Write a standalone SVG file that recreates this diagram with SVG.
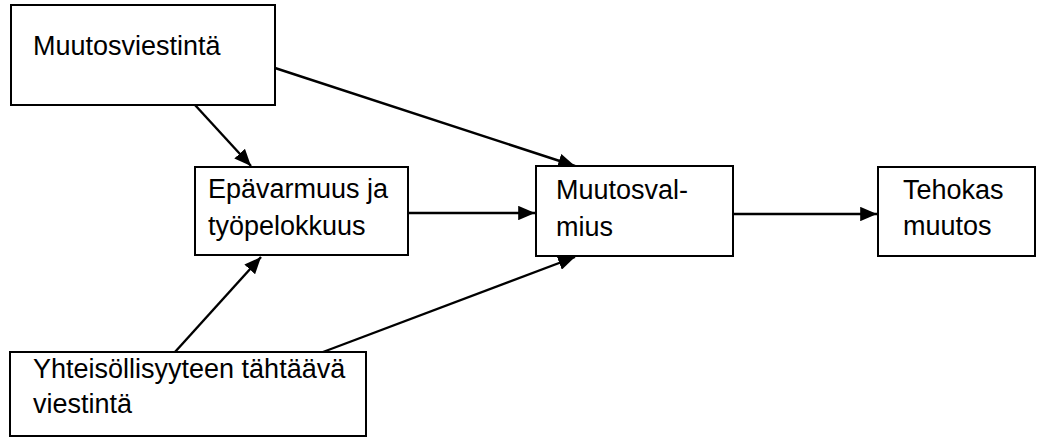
<svg xmlns="http://www.w3.org/2000/svg" width="1037" height="437" viewBox="0 0 1037 437">
<style>
.box{fill:#fff;stroke:#000;stroke-width:2}
.lbl{font-family:"Liberation Sans",Arial,sans-serif;font-size:27px;fill:#000}
.conn{stroke:#000;stroke-width:2.4;fill:none;marker-end:url(#ah)}
</style>
<defs>
<marker id="ah" markerWidth="7" markerHeight="6" refX="7" refY="3" orient="auto" markerUnits="strokeWidth">
<path d="M0,0 L7,3 L0,6 z" fill="#000"/>
</marker>
</defs>
<rect width="1037" height="437" fill="#fff"/>
<g id="connectors">
<line class="conn" x1="195" y1="105" x2="251" y2="166"/>
<line class="conn" x1="275" y1="68" x2="575" y2="166"/>
<line class="conn" x1="408" y1="213" x2="535" y2="213"/>
<line class="conn" x1="733" y1="214" x2="877" y2="214"/>
<line class="conn" x1="175" y1="352" x2="261" y2="257"/>
<line class="conn" x1="323" y1="352" x2="575" y2="257"/>
</g>
<g id="n1">
<rect class="box" x="11" y="5" width="264" height="100"/>
<text class="lbl" x="33" y="55">Muutosviestintä</text>
</g>
<g id="n2">
<rect class="box" x="195" y="167" width="213" height="88"/>
<text class="lbl" x="208" y="198">Epävarmuus ja</text>
<text class="lbl" x="208" y="235">työpelokkuus</text>
</g>
<g id="n3">
<rect class="box" x="536" y="166" width="197" height="90"/>
<text class="lbl" x="556" y="199">Muutosval-</text>
<text class="lbl" x="556" y="236">mius</text>
</g>
<g id="n4">
<rect class="box" x="878" y="167" width="157" height="89"/>
<text class="lbl" x="903" y="199">Tehokas</text>
<text class="lbl" x="903" y="235">muutos</text>
</g>
<g id="n5">
<rect class="box" x="10" y="352" width="356" height="84"/>
<text class="lbl" x="33" y="378">Yhteisöllisyyteen tähtäävä</text>
<text class="lbl" x="33" y="413">viestintä</text>
</g>
</svg>
